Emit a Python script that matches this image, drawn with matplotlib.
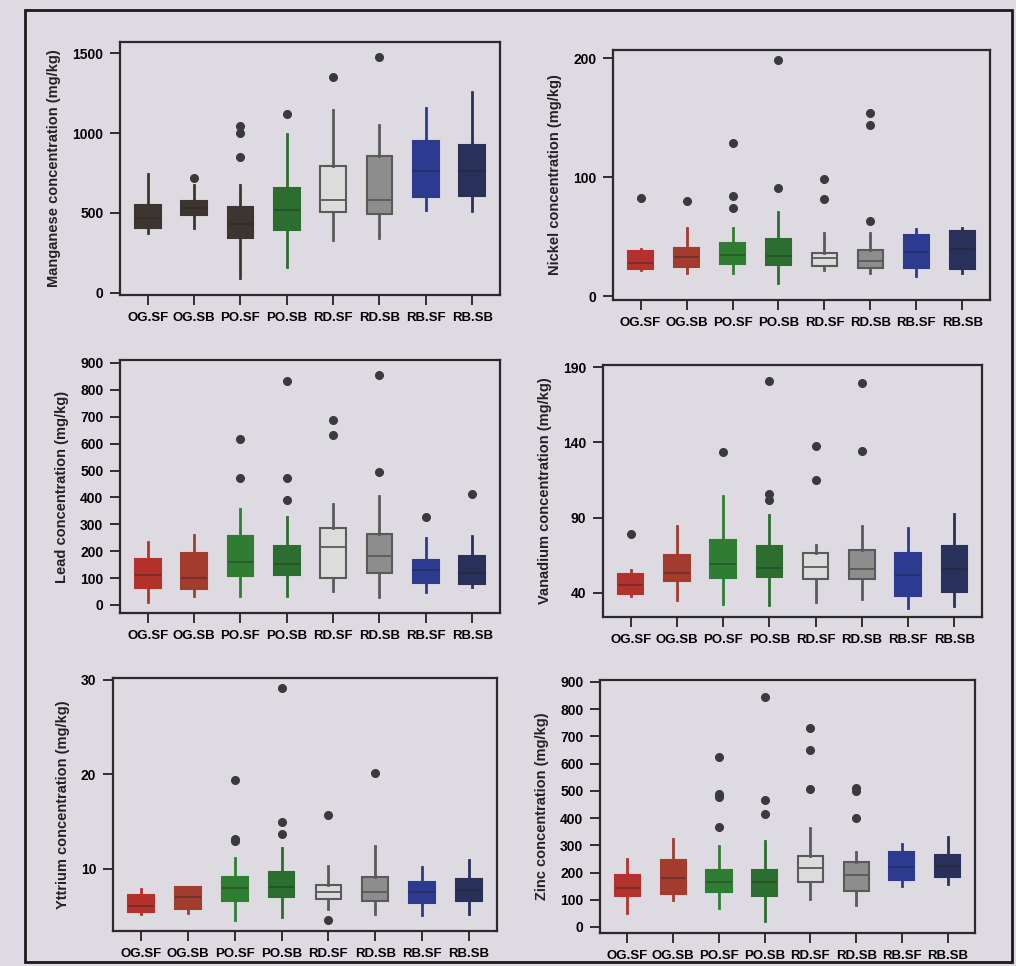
import matplotlib.pyplot as plt
from matplotlib.patches import Rectangle

plt.rcParams['font.family'] = ['Liberation Sans', 'DejaVu Sans']

groups = ['OG.SF', 'OG.SB', 'PO.SF', 'PO.SB', 'RD.SF', 'RD.SB', 'RB.SF', 'RB.SB']

# Manganese
mn_lo = [372, 403, 93, 159, 327, 341, 517, 511]
mn_q1 = [403, 486, 341, 393, 505, 494, 596, 604]
mn_med = [470, 530, 430, 517, 579, 583, 760, 760]
mn_q3 = [548, 573, 538, 656, 792, 857, 952, 927]
mn_hi = [745, 672, 672, 993, 1144, 1051, 1159, 1258]
mn_fl = [[], [720], [1045, 1003, 848], [1121], [1349], [1479], [], []]

# Nickel
ni_lo = [22.4, 20.1, 19.6, 11.7, 22.4, 19.6, 17.3, 20.1]
ni_q1 = [22.9, 24.6, 27.4, 26.6, 25.2, 24.3, 23.8, 22.9]
ni_med = [28, 33, 35, 33.6, 32.7, 30, 37, 40]
ni_q3 = [37.8, 41.1, 45.3, 48.4, 36.9, 39.2, 51.7, 55.4]
ni_hi = [39.7, 57.3, 57.9, 70.8, 53.1, 53.7, 56.5, 57.1]
ni_fl = [[82.5], [80.3], [129, 84.7, 74.1], [199, 90.9], [98.5, 81.7],
         [153.8, 144.0, 63.8], [], []]

# Lead
pb_lo = [12, 33, 33, 33, 53, 31, 50, 68]
pb_q1 = [62, 58, 108, 112, 102, 118, 83, 78]
pb_med = [110, 102, 159, 153, 215, 182, 130, 120]
pb_q3 = [170, 192, 257, 220, 288, 264, 168, 182]
pb_hi = [236, 261, 356, 326, 376, 407, 248, 257]
pb_fl = [[], [], [618, 474], [832, 474, 391], [689, 633], [854, 493], [326], [413]]

# Vanadium
v_lo = [38.2, 35.1, 32.3, 31.8, 34.0, 36.2, 30.3, 31.4]
v_q1 = [39.1, 47.7, 50.0, 50.6, 49.5, 49.5, 38.2, 40.7]
v_med = [45, 53.5, 59.5, 56.8, 57.3, 56.1, 52, 56.1]
v_q3 = [52.4, 65.4, 75.4, 71.0, 66.8, 68.3, 66.8, 71.2]
v_hi = [55.0, 84.5, 104.1, 91.5, 72.1, 84.5, 83.1, 92.2]
v_fl = [[79.4], [], [133.6], [181.1, 105.5, 101.5], [137.6, 115.2], [179.4, 134.0], [], []]

# Yttrium
y_lo = [5.18, 5.35, 4.54, 4.93, 5.77, 5.18, 5.07, 5.25]
y_q1 = [5.42, 5.77, 6.58, 7.0, 6.83, 6.58, 6.34, 6.58]
y_med = [6.0, 7.0, 8.0, 8.10, 7.54, 7.57, 7.5, 7.7]
y_q3 = [7.18, 8.06, 9.12, 9.68, 8.27, 9.12, 8.63, 8.87]
y_hi = [7.89, 8.06, 11.16, 12.22, 10.28, 12.46, 10.18, 10.88]
y_fl = [[], [], [19.37, 13.2, 12.9], [29.1, 14.93, 13.7], [15.74, 4.54], [20.14], [], []]

# Zinc
zn_lo = [51, 100, 70, 23, 103, 82, 149, 158]
zn_q1 = [113, 122, 129, 115, 164, 131, 171, 182]
zn_med = [143, 180, 165, 164, 215, 190, 220, 225]
zn_q3 = [192, 245, 211, 211, 262, 238, 274, 266]
zn_hi = [250, 323, 296, 315, 364, 276, 305, 331]
zn_fl = [[], [], [623, 490, 478, 367], [845, 468, 416], [731, 651, 505],
         [511, 498, 400], [], []]

page = '#dedae2'
base_colors = ['#b3322b', '#a33b2e', '#2f7d32', '#2c6e30',
               '#dcdcdc', '#8d8d8d', '#2c3a8f', '#29305a']
mn_colors = ['#3d3630', '#3d3630', '#3d3630', '#2c6e30',
             '#dcdcdc', '#8d8d8d', '#2c3a8f', '#29305a']


def draw(ax, lo, q1, med, q3, hi, fl, colors, ylabel, ylim, yticks):
    stats = []
    for i in range(len(groups)):
        stats.append({'whislo': lo[i], 'q1': q1[i], 'med': med[i],
                      'q3': q3[i], 'whishi': hi[i], 'fliers': fl[i]})
    bp = ax.bxp(stats, positions=range(1, 9), widths=0.55, patch_artist=True,
                showcaps=False,
                flierprops=dict(marker='o', markersize=5.5, markerfacecolor='#3a3a3a',
                                markeredgecolor='#3a3a3a'))
    for i, c in enumerate(colors):
        light = c in ('#dcdcdc', '#8d8d8d')
        edge = '#5a5a5a' if light else c
        bp['boxes'][i].set_facecolor(c)
        bp['boxes'][i].set_edgecolor(edge)
        bp['boxes'][i].set_linewidth(1.5)
        for w in bp['whiskers'][2 * i:2 * i + 2]:
            w.set_color(edge)
            w.set_linewidth(2)
        bp['medians'][i].set_color('#5a5a5a' if light else '#222222')
        bp['medians'][i].set_alpha(1 if light else 0.4)
        bp['medians'][i].set_linewidth(1.3)
    ax.set_facecolor(page)
    ax.set_xlim(0.4, 8.6)
    ax.set_ylim(*ylim)
    ax.set_yticks(list(yticks), labels=[str(t) for t in yticks],
                  fontsize=10, fontweight='bold')
    ax.set_xticks(range(1, 9), labels=groups, fontsize=9.5, fontweight='bold')
    ax.tick_params(axis='x', direction='out', length=7, width=1.3, color='#222222', pad=5)
    ax.tick_params(axis='y', direction='out', length=7, width=1.3, color='#222222', pad=5)
    ax.set_ylabel(ylabel, fontsize=10.5, fontweight='bold', color='#222222', labelpad=8)
    for s in ax.spines.values():
        s.set_linewidth(1.6)
        s.set_color('#2a2a2a')


fig = plt.figure(figsize=(10.16, 9.66), dpi=100)
fig.patch.set_facecolor(page)

ax1 = fig.add_axes([0.1181, 0.6946, 0.374, 0.2619])
ax2 = fig.add_axes([0.6033, 0.6894, 0.3711, 0.2588])
ax3 = fig.add_axes([0.1181, 0.3654, 0.374, 0.2619])
ax4 = fig.add_axes([0.5935, 0.3613, 0.373, 0.2609])
ax5 = fig.add_axes([0.1112, 0.0362, 0.378, 0.2619])
ax6 = fig.add_axes([0.5906, 0.0342, 0.3691, 0.2619])

draw(ax1, mn_lo, mn_q1, mn_med, mn_q3, mn_hi, mn_fl, mn_colors,
     'Manganese concentration (mg/kg)', (-15, 1570), [0, 500, 1000, 1500])
draw(ax2, ni_lo, ni_q1, ni_med, ni_q3, ni_hi, ni_fl, base_colors,
     'Nickel concentration (mg/kg)', (-3, 207), [0, 100, 200])
draw(ax3, pb_lo, pb_q1, pb_med, pb_q3, pb_hi, pb_fl, base_colors,
     'Lead concentration (mg/kg)', (-30, 911), range(0, 1000, 100))
draw(ax4, v_lo, v_q1, v_med, v_q3, v_hi, v_fl, base_colors,
     'Vanadium concentration (mg/kg)', (24, 191.5), [40, 90, 140, 190])
draw(ax5, y_lo, y_q1, y_med, y_q3, y_hi, y_fl, base_colors,
     'Yttrium concentration (mg/kg)', (3.4, 30.2), [10, 20, 30])
draw(ax6, zn_lo, zn_q1, zn_med, zn_q3, zn_hi, zn_fl, base_colors,
     'Zinc concentration (mg/kg)', (-22, 907), range(0, 1000, 100))

# outer frame of the figure
fig.add_artist(Rectangle((0.0246, 0.004), 0.971, 0.9855, transform=fig.transFigure,
                         fill=False, edgecolor='#1a1a1a', linewidth=2))

fig.savefig('out.png', dpi=100, facecolor=page)
